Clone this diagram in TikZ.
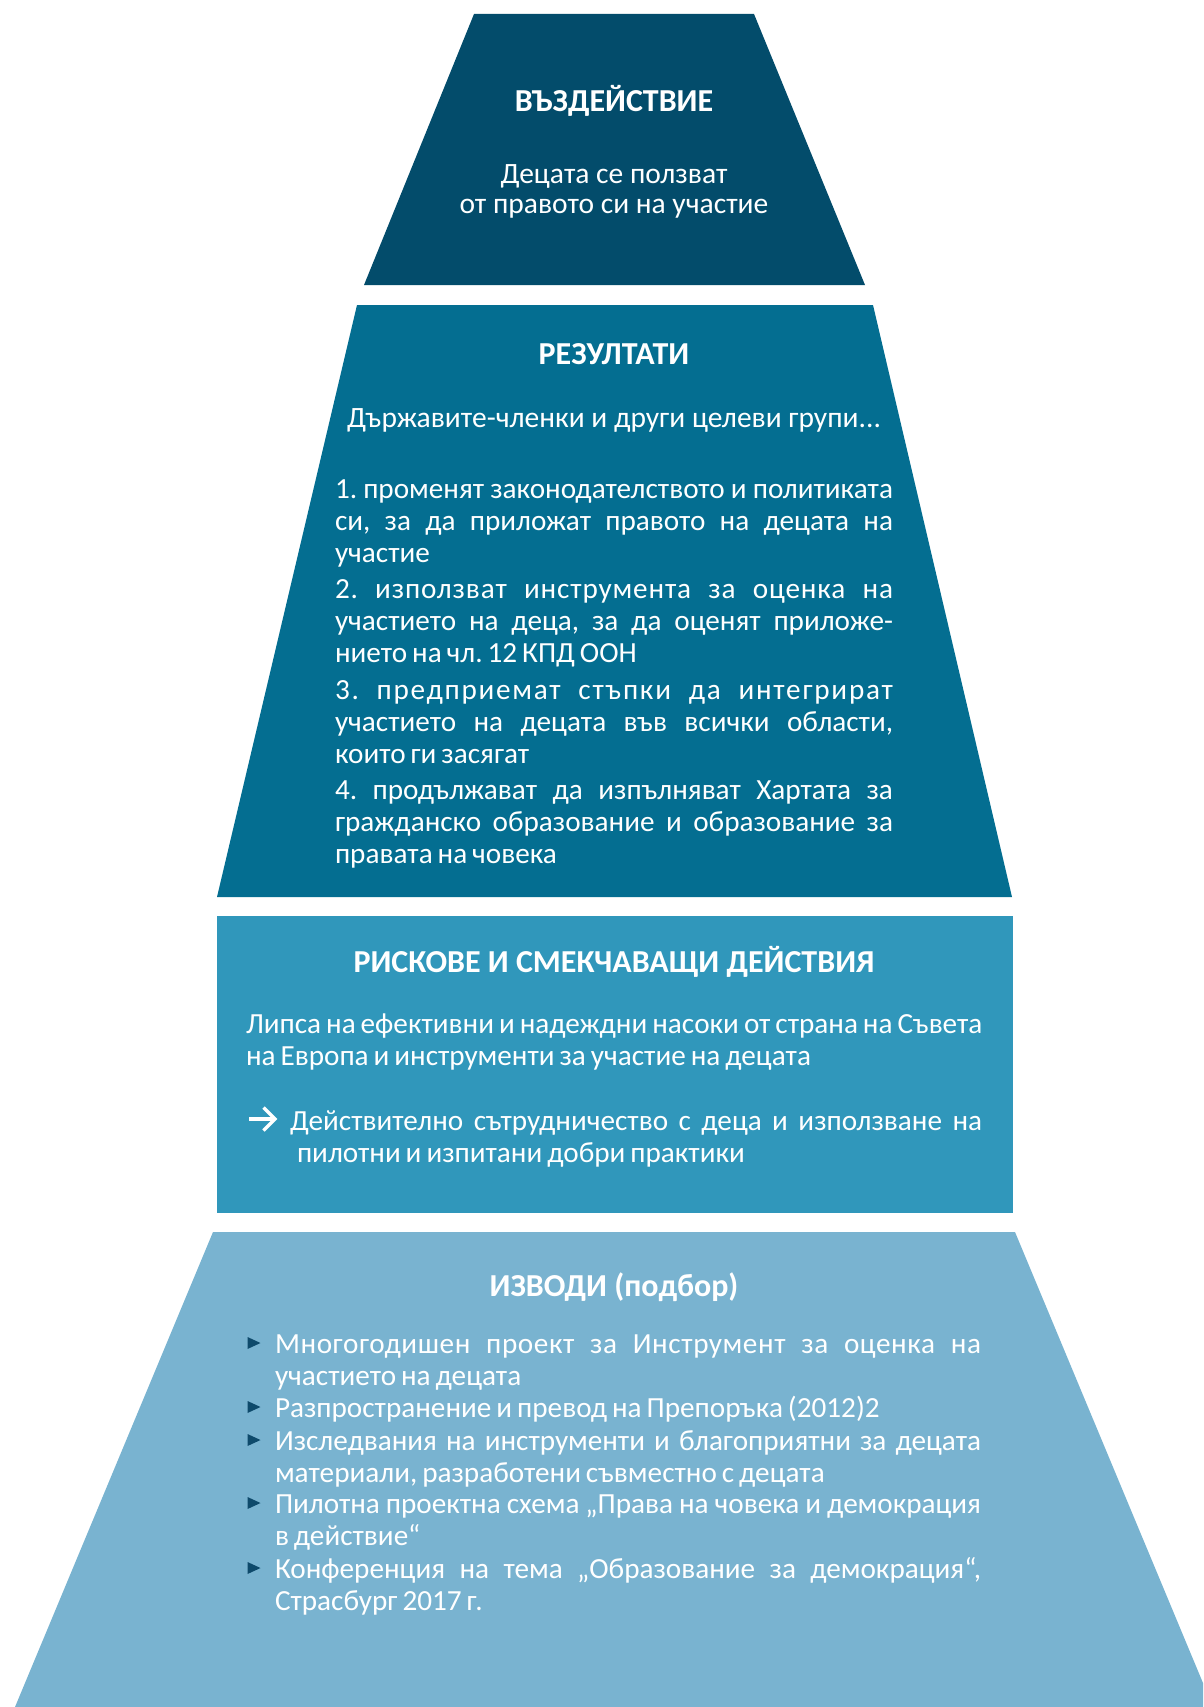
\documentclass[tikz,border=0pt]{standalone}
\usepackage{fontspec}
\setmainfont{Carlito}
\definecolor{cTop}{HTML}{034C6B}
\definecolor{cRes}{HTML}{046E91}
\definecolor{cRisk}{HTML}{3097BB}
\definecolor{cOut}{HTML}{79B3D0}
\definecolor{cBul}{HTML}{0E4A6B}
\newlength{\lw}
\newcommand{\jl}[1]{\hbox to\lw{\spaceskip=0.17em plus 1fil minus 0.1em\relax #1}\par}
\newcommand{\jls}[2]{\hbox to\lw{\addfontfeature{LetterSpace=#1}\spaceskip=0.17em plus 1fil minus 0.1em\relax #2}\par}
\newcommand{\lastln}[1]{\hbox{\spaceskip=0.17em\relax #1}\par}
\begin{document}
\begin{tikzpicture}[x=1pt,y=-1pt,
  txt/.style={text=white, inner sep=0pt, outer sep=0pt},
  ttl/.style={txt, anchor=base, font=\bfseries\fontsize{32}{36}\selectfont},
  ctr/.style={txt, anchor=base, align=center, font=\fontsize{29.5}{29.5}\selectfont},
  lst/.style={txt, anchor=base west, text width=#1, font=\frenchspacing\fontsize{29.2}{32}\selectfont,
    execute at begin node={\setlength{\lw}{#1}}},
  bul/.style={fill=cBul, draw=none},
  arr/.style={draw=white, line width=3.4pt, miter limit=10},
]
\useasboundingbox (0,0) rectangle (1203,1707);
% shapes
\fill[cTop] (474,14) -- (754,14) -- (865,285) -- (364,285) -- cycle;
\fill[cRes] (357,305) -- (873,305) -- (1012,897) -- (217,897) -- cycle;
\fill[cRisk] (217,916) rectangle (1013,1213);
\begin{scope}
\clip (0,0) rectangle (1203,1707);
\fill[cOut] (213,1232) -- (1015,1232) -- (1213,1707) -- (15,1707) -- cycle;
\end{scope}

% top
\node[ttl] (t1) at (614,112) {ВЪЗДЕЙСТВИЕ};
\node[ctr] (t2) at (614,213) {Децата се ползват\\от правото си на участие};

% results
\node[ttl] (r0) at (614,364) {РЕЗУЛТАТИ};
\node[ctr] (rs) at (614,427) {Държавите-членки и други целеви групи...};
\node[lst=558pt] (r1) at (335,498) {\jl{1. променят законодателството и политиката}\jl{си, за да приложат правото на децата на}\lastln{участие}};
\node[lst=558pt] (r2) at (335,598) {\jls{3}{2. използват инструмента за оценка на}\jl{участието на деца, за да оценят приложе-}\lastln{нието на чл. 12 КПД ООН}};
\node[lst=558pt] (r3) at (335,699) {\jls{6}{3. предприемат стъпки да интегрират}\jl{участието на децата във всички области,}\lastln{които ги засягат}};
\node[lst=558pt] (r4) at (335,799) {\jl{4. продължават да изпълняват Хартата за}\jl{гражданско образование и образование за}\lastln{правата на човека}};

% risks
\node[ttl] (k0) at (614,972) {РИСКОВЕ И СМЕКЧАВАЩИ ДЕЙСТВИЯ};
\node[lst=736pt] (k1) at (246,1033) {\lastln{Липса на ефективни и надеждни насоки от страна на Съвета}\lastln{на Европа и инструменти за участие на децата}};
\node[lst=692pt] (k2) at (290,1130) {\jl{Действително сътрудничество с деца и използване на}\lastln{\hspace*{7pt}пилотни и изпитани добри практики}};
\coordinate (a0) at (249,1119);
\coordinate (a1) at (275,1119);
\draw[arr] (a0) -- (a1);
\draw[arr] (263.5,1107.5) -- (a1) -- (263.5,1130.5);

% outputs
\node[ttl] (o0) at (614,1296) {ИЗВОДИ (подбор)};
\node[lst=706pt] (o1) at (275,1353) {\jls{2}{Многогодишен проект за Инструмент за оценка на}\lastln{участието на децата}};
\node[lst=706pt] (o2) at (275,1417) {\lastln{Разпространение и превод на Препоръка (2012)2}};
\node[lst=706pt] (o3) at (275,1450) {\jl{Изследвания на инструменти и благоприятни за децата}\lastln{материали, разработени съвместно с децата}};
\node[lst=706pt] (o4) at (275,1513) {\jl{Пилотна проектна схема „Права на човека и демокрация}\lastln{в действие“}};
\node[lst=706pt] (o5) at (275,1578) {\jl{Конференция на тема „Образование за демокрация“,}\lastln{Страсбург 2017 г.}};
\foreach \yy in {1343,1407,1440,1503,1568}
  \fill[bul] (247.5,\yy-6) -- (260.5,\yy) -- (247.5,\yy+6) -- cycle;
\end{tikzpicture}
\end{document}
